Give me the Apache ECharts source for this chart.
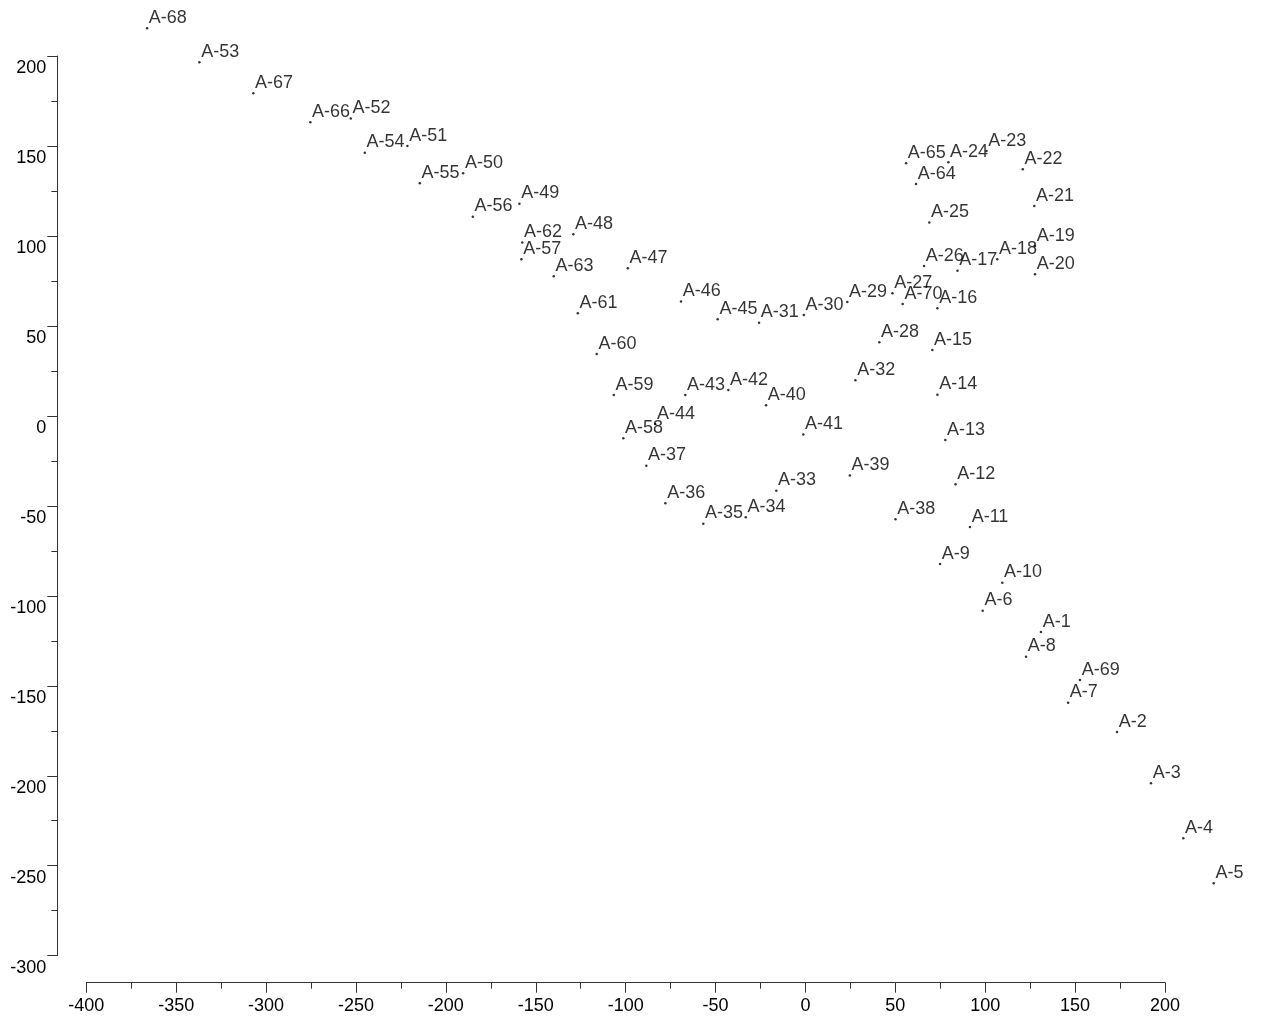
<!DOCTYPE html>
<html>
<head>
<meta charset="utf-8">
<script src="https://cdn.jsdelivr.net/npm/echarts@6/dist/echarts.min.js"></script>
<style>
html,body{margin:0;padding:0;background:#fff;}
#chart{width:1264px;height:1018px;}
</style>
</head>
<body>
<div id="chart"></div>
<script>
const names = ['A-1','A-2','A-3','A-4','A-5','A-6','A-7','A-8','A-9','A-10',
  'A-11','A-12','A-13','A-14','A-15','A-16','A-17','A-18','A-19','A-20',
  'A-21','A-22','A-23','A-24','A-25','A-26','A-27','A-28','A-29','A-30',
  'A-31','A-32','A-33','A-34','A-35','A-36','A-37','A-38','A-39','A-40',
  'A-41','A-42','A-43','A-44','A-45','A-46','A-47','A-48','A-49','A-50',
  'A-51','A-52','A-53','A-54','A-55','A-56','A-57','A-58','A-59','A-60',
  'A-61','A-62','A-63','A-64','A-65','A-66','A-67','A-68','A-69','A-70'];
const xs = [131.0,173.3,192.2,210.2,227.1,98.6,146.1,122.7,74.9,109.5,
  91.5,83.5,77.8,73.4,70.6,73.4,84.6,106.7,127.7,127.7,
  127.3,120.9,100.7,79.5,68.9,66.0,48.4,41.1,23.3,-0.9,
  -25.8,27.8,-16.2,-33.2,-56.8,-77.9,-88.5,50.1,24.7,-21.9,
  -1.2,-42.9,-66.8,-83.6,-48.8,-69.2,-98.8,-129.1,-159.1,-190.4,
  -221.4,-252.9,-337.1,-245.1,-214.5,-185.0,-158.0,-101.3,-106.6,-116.1,
  -126.6,-157.5,-140.0,61.5,56.0,-275.4,-307.1,-366.2,152.7,54.1];
const ys = [-120.1,-175.7,-204.2,-234.7,-259.8,-108.3,-159.4,-133.8,-82.3,-92.7,
  -61.7,-38.0,-13.4,11.8,36.6,59.8,80.7,87.0,94.4,78.7,
  116.6,137.0,147.2,140.9,107.4,83.3,68.1,40.9,63.3,56.1,
  51.8,19.8,-41.6,-56.4,-59.9,-48.6,-27.7,-57.5,-33.2,5.9,
  -10.4,14.4,11.6,-4.5,53.7,63.5,82.0,100.9,117.9,134.8,
  150.0,165.2,196.5,146.3,129.3,110.7,87.0,-12.4,11.6,34.4,
  57.0,96.3,77.6,128.9,140.4,163.2,179.3,215.4,-146.8,62.2];
const xTicks = [-400, 200, 50];
const yTicks = [-300, 200, 50];

const FONT = '"Liberation Sans", Arial, Helvetica, sans-serif';
const data = names.map((n, i) => ({ name: n, value: [xs[i], ys[i]] }));

const chart = echarts.init(document.getElementById('chart'), null, { renderer: 'canvas' });
chart.setOption({
  backgroundColor: '#ffffff',
  animation: false,
  grid: { left: 86.3, top: 56, width: 1078.7, height: 899.7, containLabel: false },
  xAxis: {
    type: 'value', min: xTicks[0], max: xTicks[1], interval: xTicks[2],
    offset: 27,
    axisLine: { show: true, onZero: false, lineStyle: { color: '#333', width: 1 } },
    axisTick: { show: true, length: 10, lineStyle: { color: '#333' } },
    minorTick: { show: true, splitNumber: 2, length: 6, lineStyle: { color: '#333' } },
    splitLine: { show: false },
    axisLabel: { margin: 14, color: '#000', fontSize: 18, fontFamily: FONT, lineHeight: 18, showMinLabel: true, showMaxLabel: true }
  },
  yAxis: {
    type: 'value', min: yTicks[0], max: yTicks[1], interval: yTicks[2],
    offset: 29,
    axisLine: { show: true, onZero: false, lineStyle: { color: '#333', width: 1 } },
    axisTick: { show: true, length: 10, lineStyle: { color: '#333' } },
    minorTick: { show: true, splitNumber: 2, length: 6, lineStyle: { color: '#333' } },
    splitLine: { show: false },
    axisLabel: { margin: 11, color: '#000', fontSize: 18, fontFamily: FONT, lineHeight: 24,
      verticalAlign: 'top', showMinLabel: true, showMaxLabel: true }
  },
  series: [{
    type: 'scatter',
    clip: false,
    symbol: 'circle',
    symbolSize: 2.5,
    itemStyle: { color: '#000' },
    data: data,
    label: {
      show: true,
      formatter: p => p.name,
      position: [3, 0],
      align: 'left',
      verticalAlign: 'bottom',
      color: '#000',
      fontSize: 18,
      lineHeight: 18,
      fontFamily: FONT
    },
    emphasis: { disabled: true }
  }]
});
</script>
</body>
</html>
